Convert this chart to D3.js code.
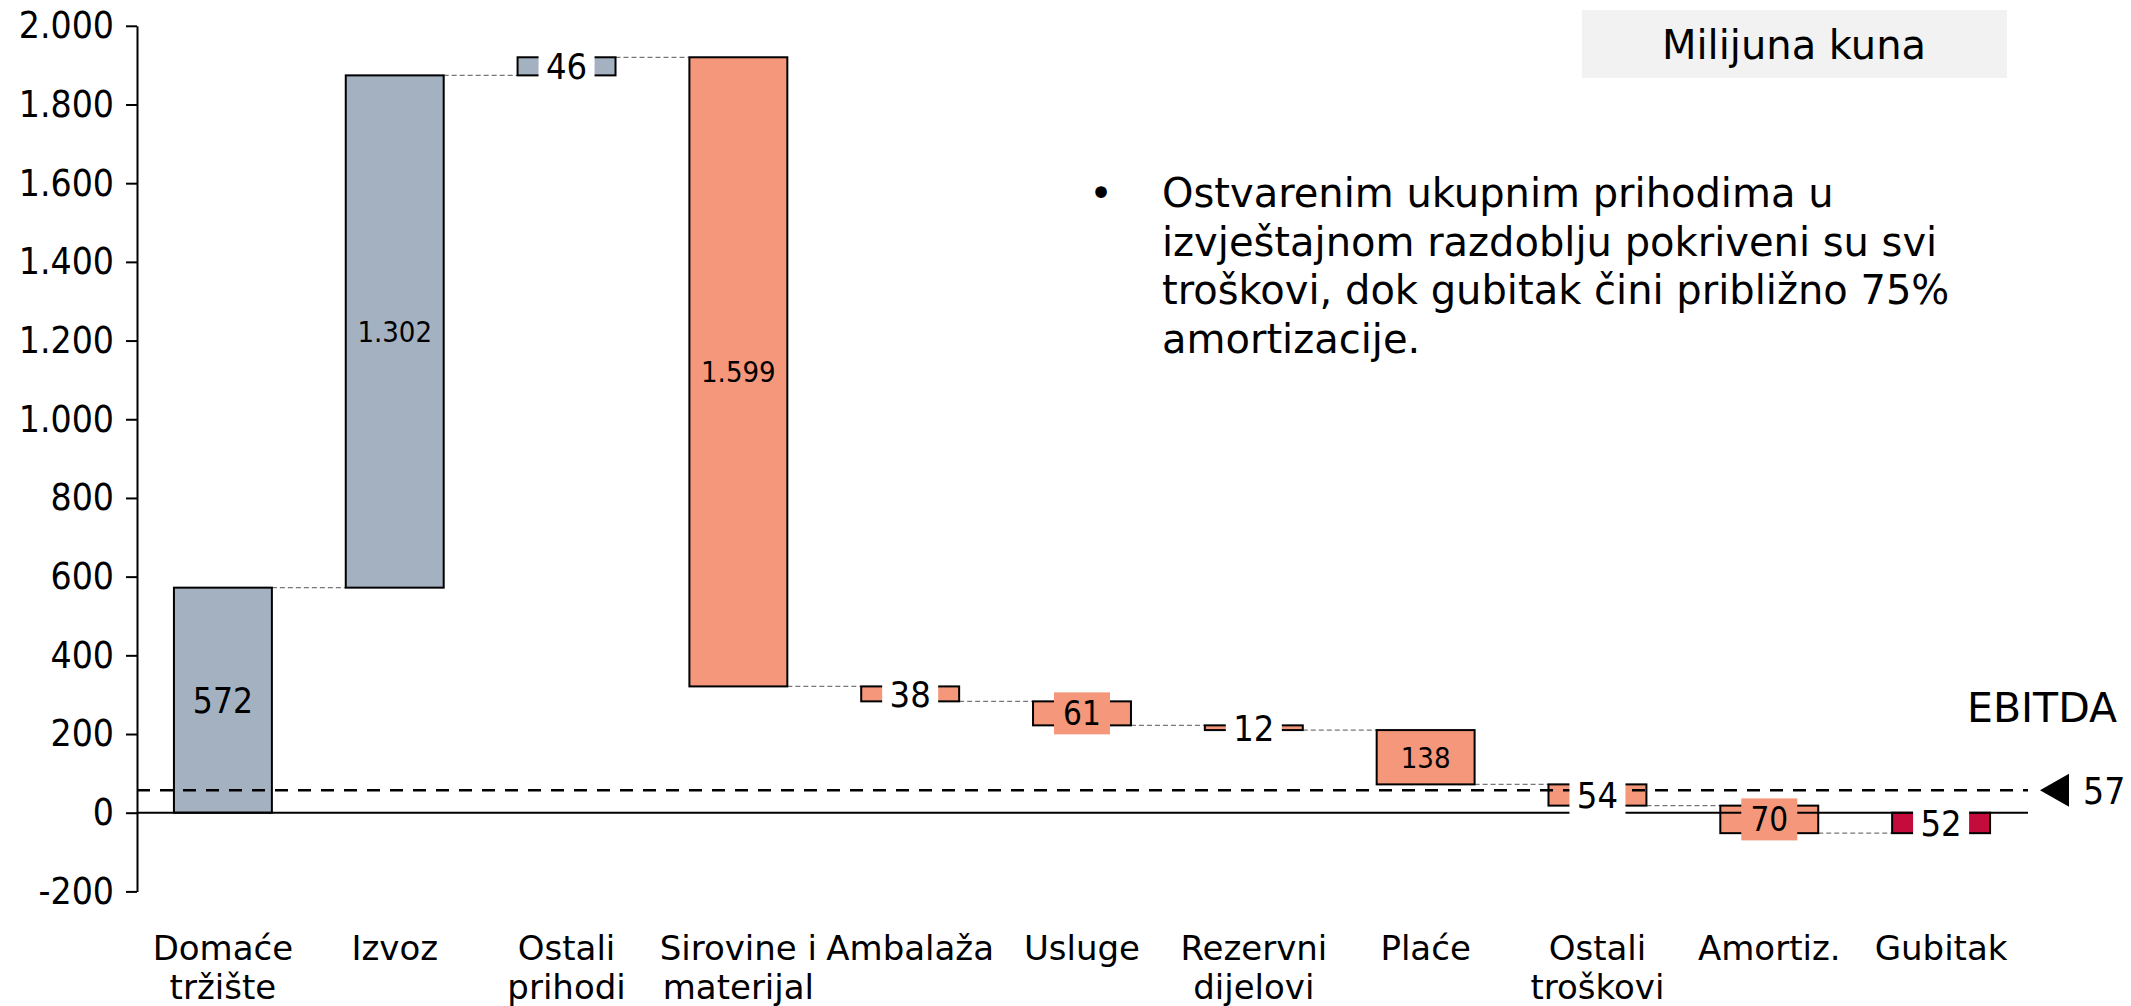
<!DOCTYPE html>
<html>
<head>
<meta charset="utf-8">
<script src="https://cdnjs.cloudflare.com/ajax/libs/d3/7.8.5/d3.min.js"></script>
<style>
  body { margin: 0; background: #fff; }
  svg { display: block; }
</style>
</head>
<body>
<script>
// waterfall data (milijuna kuna)
const categories = ["Domaće tržište", "Izvoz", "Ostali prihodi", "Sirovine i materijal", "Ambalaža",
  "Usluge", "Rezervni dijelovi", "Plaće", "Ostali troškovi", "Amortiz.", "Gubitak"];
const categoryLines = [["Domaće", "tržište"], ["Izvoz"], ["Ostali", "prihodi"], ["Sirovine i", "materijal"],
  ["Ambalaža"], ["Usluge"], ["Rezervni", "dijelovi"], ["Plaće"], ["Ostali", "troškovi"], ["Amortiz."], ["Gubitak"]];
const deltas = [572, 1302, 46, -1599, -38, -61, -12, -138, -54, -70, 52];
const kinds = ["prihod", "prihod", "prihod", "trosak", "trosak", "trosak", "trosak", "trosak", "trosak", "trosak", "gubitak"];
const yTicks = [-200, 0, 200, 400, 600, 800, 1000, 1200, 1400, 1600, 1800, 2000];
const ebitda = 57;
const noteLines = ["Ostvarenim ukupnim prihodima u", "izvještajnom razdoblju pokriveni su svi",
  "troškovi, dok gubitak čini približno 75%", "amortizacije."];
const unitLabel = "Milijuna kuna";

const colors = { prihod: "#a3b1c0", trosak: "#f4977a", gubitak: "#c40c3c" };
const textFont = "'DejaVu Sans', sans-serif";
const numFont = "'DejaVu Sans Condensed', 'DejaVu Sans', sans-serif";

const W = 2131, H = 1006;
const svg = d3.select("body").append("svg").attr("width", W).attr("height", H);

const x = d3.scaleBand().domain(categories).range([137, 2027])
  .paddingInner(0.43).paddingOuter(0.215);
const y = d3.scaleLinear().domain([-200, 2000]).range([891.4, 25.8]);
const bw = x.bandwidth();

const loc = d3.formatLocale({ decimal: ",", thousands: ".", grouping: [3], currency: ["", ""], minus: "-" });
const fmt = loc.format(",");

let cum = 0;
const bars = deltas.map((d, i) => {
  const start = cum;
  cum += d;
  return { cat: categories[i], start: start, end: cum, d: d, kind: kinds[i], i: i };
});

// y axis
const yAxis = d3.axisLeft(y).tickValues(yTicks).tickFormat(fmt)
  .tickSize(11).tickSizeOuter(0).tickPadding(12);
const ag = svg.append("g").attr("transform", "translate(137,0)").call(yAxis);
ag.select(".domain").attr("stroke", "#000").attr("stroke-width", 2);
ag.selectAll(".tick line").attr("stroke", "#000").attr("stroke-width", 2);
ag.selectAll(".tick text").attr("font-family", numFont).attr("font-size", 37).attr("fill", "#000");

// connectors
svg.append("g").selectAll("line")
  .data(bars.slice(0, -1))
  .join("line")
  .attr("x1", d => x(d.cat) + bw)
  .attr("x2", d => x(categories[d.i + 1]))
  .attr("y1", d => y(d.end))
  .attr("y2", d => y(d.end))
  .attr("stroke", "#777")
  .attr("stroke-width", 1.2)
  .attr("stroke-dasharray", "5,3");

// bars
svg.append("g").selectAll("rect")
  .data(bars)
  .join("rect")
  .attr("x", d => x(d.cat))
  .attr("width", bw)
  .attr("y", d => y(Math.max(d.start, d.end)))
  .attr("height", d => Math.abs(y(d.start) - y(d.end)))
  .attr("fill", d => colors[d.kind])
  .attr("stroke", "#000")
  .attr("stroke-width", 2);

// zero line and EBITDA line
svg.append("line")
  .attr("x1", 137).attr("x2", 2028)
  .attr("y1", y(0)).attr("y2", y(0))
  .attr("stroke", "#000").attr("stroke-width", 2);
svg.append("line")
  .attr("x1", 137).attr("x2", 2028)
  .attr("y1", y(ebitda)).attr("y2", y(ebitda))
  .attr("stroke", "#000").attr("stroke-width", 2.5)
  .attr("stroke-dasharray", "13,10");

// value labels
const lab = svg.append("g");
bars.forEach(b => {
  const h = Math.abs(y(b.start) - y(b.end));
  const cx = x(b.cat) + bw / 2;
  const cy = (y(b.start) + y(b.end)) / 2;
  let fs;
  if (h > 45) {
    fs = b.i === 0 ? 35 : 29;
  } else {
    fs = h >= 22 ? 33 : 36;
    lab.append("rect")
      .attr("x", cx - 28).attr("width", 56)
      .attr("y", cy - 21).attr("height", 42)
      .attr("fill", h >= 22 ? colors[b.kind] : "#fff");
  }
  lab.append("text")
    .attr("x", cx).attr("y", cy + fs * 0.36)
    .attr("text-anchor", "middle")
    .attr("font-family", numFont).attr("font-size", fs)
    .text(fmt(Math.abs(b.d)));
});

// category labels
const cl = svg.append("g");
bars.forEach(b => {
  const t = cl.append("text")
    .attr("text-anchor", "middle")
    .attr("font-family", textFont).attr("font-size", 34);
  categoryLines[b.i].forEach((ln, k) => {
    t.append("tspan").attr("x", x(b.cat) + bw / 2).attr("y", 960 + k * 39).text(ln);
  });
});

// EBITDA marker
const ye = y(ebitda);
svg.append("path")
  .attr("d", `M2040,${ye} L2069,${ye - 16.5} L2069,${ye + 16.5} Z`)
  .attr("fill", "#000");
svg.append("text").attr("x", 2083).attr("y", ye + 14)
  .attr("font-family", numFont).attr("font-size", 37).text(fmt(ebitda));
svg.append("text").attr("x", 1967).attr("y", 722)
  .attr("font-family", textFont).attr("font-size", 41).text("EBITDA");

// unit box
svg.append("rect").attr("x", 1582).attr("y", 10).attr("width", 425).attr("height", 68).attr("fill", "#f2f2f2");
svg.append("text").attr("x", 1794).attr("y", 59).attr("text-anchor", "middle")
  .attr("font-family", textFont).attr("font-size", 40).text(unitLabel);

// note
svg.append("text").attr("x", 1101).attr("y", 207).attr("text-anchor", "middle")
  .attr("font-family", textFont).attr("font-size", 40).text("•");
const note = svg.append("text").attr("font-family", textFont).attr("font-size", 40);
noteLines.forEach((ln, k) => {
  note.append("tspan").attr("x", 1162).attr("y", 207 + k * 48.7).text(ln);
});
</script>
</body>
</html>
